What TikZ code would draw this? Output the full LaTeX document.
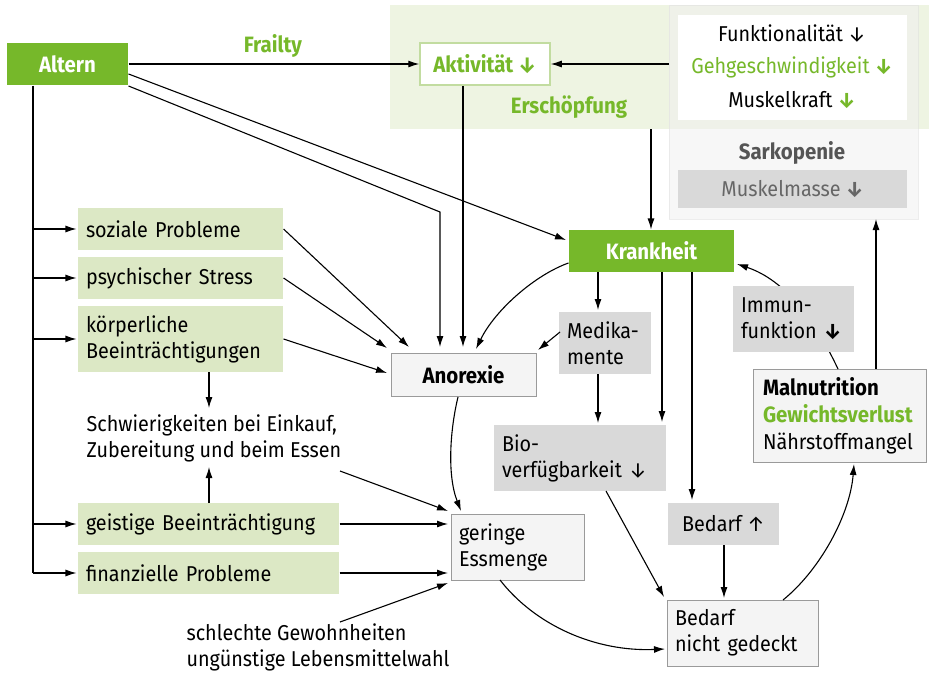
\documentclass[tikz,border=0pt]{standalone}
\usepackage{fontspec}
\setmainfont{Fira Sans}[FakeStretch=0.92]
\usetikzlibrary{arrows.meta}
\definecolor{pgreen}{HTML}{76B82A}
\definecolor{lgreen}{HTML}{DCE8C5}
\definecolor{panelgreen}{HTML}{EEF4E2}
\definecolor{aktborder}{HTML}{C2DCA0}
\definecolor{midgrey}{HTML}{D9D9D9}
\definecolor{palegrey}{HTML}{F4F4F4}
\definecolor{bordgrey}{HTML}{9A9A9A}
\definecolor{sarkgrey}{HTML}{555555}
\definecolor{mmgrey}{HTML}{666666}
\newcommand{\bfs}{\fontsize{22.2}{26}\selectfont\bfseries}
\begin{document}
\begin{tikzpicture}[x=1pt,y=-1pt,
  font=\fontsize{21.5}{26}\selectfont,
  >={Latex[length=11pt,width=7pt]},
  line width=1.1pt,
  base/.style={rectangle,inner sep=0pt,minimum height=42},
  greenbox/.style={base,fill=pgreen,text=white,font=\bfs},
  lgbox/.style={base,fill=lgreen,align=left},
  greybox/.style={base,fill=midgrey,align=left},
  palebox/.style={base,fill=palegrey,draw=bordgrey,line width=1pt,align=left},
  plain/.style={inner sep=0pt,align=left},
  lbl/.style={inner sep=0pt,text=pgreen,font=\bfs},
  conn/.style={->}
]
\useasboundingbox (0,0) rectangle (929,675);
% background panels
\fill[panelgreen] (390,5) rectangle (929,129);
\fill[gray!12,opacity=0.55,draw=gray!25,line width=0.8pt] (669,5) rectangle (918,219);
\node[base,fill=white,minimum width=229,minimum height=105] (fwm) at (792.5,67.5) {};
\node[inner sep=0pt] (funk) at (792,33) {Funktionalität ↓};
\node[inner sep=0pt,text=pgreen] (geh) at (792,67) {Gehgeschwindigkeit {\bfseries ↓}};
\node[inner sep=0pt] (mk) at (792,100) {Muskelkraft {\color{pgreen}\bfseries ↓}};
\node[inner sep=0pt,text=sarkgrey,font=\bfs] (sark) at (792,153) {Sarkopenie};
\node[base,fill=midgrey,minimum width=229,minimum height=38,text=mmgrey] (mm) at (792.5,189) {Muskelmasse {\bfseries ↓}};
\coordinate (sarkL) at (669,64);
\coordinate (sarkB) at (876,219);
\coordinate (panelB) at (651,129);

% nodes
\node[greenbox,minimum width=121] (altern) at (67.5,64) {Altern};
\node[lbl] (frailty) at (273,46) {Frailty};
\node[base,fill=white,draw=aktborder,line width=1.5pt,minimum width=130,text=pgreen,font=\bfs] (akt) at (485,64) {Aktivität ↓};
\node[lbl] (ersch) at (569,107) {Erschöpfung};

\node[lgbox,minimum width=205,text width=189] (sozial) at (180.5,229) {soziale Probleme};
\node[lgbox,minimum width=205,text width=189] (psych) at (180.5,278) {psychischer Stress};
\node[lgbox,minimum width=205,minimum height=66,text width=189] (koerp) at (180.5,339) {körperliche\\Beeinträchtigungen};
\node[plain,anchor=north west] (schw) at (86,414) {Schwierigkeiten bei Einkauf,\\Zubereitung und beim Essen};
\node[lgbox,minimum width=261,text width=245] (geist) at (208.5,524) {geistige Beeinträchtigung};
\node[lgbox,minimum width=261,text width=245] (finanz) at (208.5,573) {finanzielle Probleme};
\node[plain,anchor=north west] (schlecht) at (186,623) {schlechte Gewohnheiten\\ungünstige Lebensmittelwahl};

\node[palebox,minimum width=145,minimum height=43,font=\bfs] (anor) at (463.5,374.5) {Anorexie};
\node[palebox,minimum width=133,minimum height=66,text width=117] (gering) at (517.5,547) {geringe\\Essmenge};

\node[greenbox,minimum width=165] (krank) at (651.5,251) {Krankheit};
\node[greybox,minimum width=92,minimum height=62,text width=76] (medi) at (605,343) {Medika-\\mente};
\node[greybox,minimum width=172,minimum height=66,text width=156] (bio) at (580,458) {Bio-\\verfügbarkeit ↓};
\node[greybox,minimum width=111] (bedarf) at (723.5,524) {Bedarf ↑};
\node[palebox,minimum width=151,minimum height=66,text width=135] (nicht) at (742.5,633) {Bedarf\\nicht gedeckt};
\node[palebox,minimum width=173,minimum height=93,text width=153,font=\fontsize{21.5}{27}\selectfont] (maln) at (839.5,415.5) {{\bfs Malnutrition}\\{\color{pgreen}\bfs Gewichtsverlust}\\Nährstoffmangel};

% connectors
\draw[conn] (altern.east) -- (akt.west);
\draw[conn] (sarkL) -- (akt.east);
\draw[conn] (panelB) -- (krank.north -| panelB);
\draw[conn] (maln.north -| sarkB) -- (sarkB);
\draw[conn] (akt.south -| 463,0) -- (463,347);
\draw[conn] (altern.east |- 0,86) -- (440,212) -- (440,347);
\draw[conn] (altern.east |- 0,74) -- (566,240);

\coordinate (trunkTop) at (33,85);
\draw (altern.south -| trunkTop) -- (33,573);
\foreach \n in {sozial,psych,koerp,geist,finanz}{
  \draw[conn] (33,0 |- \n.west) -- ([xshift=-1pt]\n.west);
}
\draw[conn] (sozial.east) -- (409,347);
\draw[conn] (psych.east) -- (387,348);
\draw[conn] (koerp.east) -- (387,373);
\draw[conn] (209,372) -- (209,408);
\draw[conn] (209,503) -- (209,467);
\draw[conn] (340,471) -- (448,511);
\draw[conn] (geist.east) -- (448,524);
\draw[conn] (finanz.east) -- (448,573);
\draw[conn] (340,622) -- (448,583);

\draw[conn] (krank.south west |- 0,263) .. controls (535,275) and (495,310) .. (476,349);
\draw[conn] (560,332) -- (538,350);
\draw[conn] (458,397) .. controls (450,430) and (447,475) .. (461,511);

\draw[conn] (598,272) -- (598,310);
\draw[conn] (662,272) -- (662,422);
\draw[conn] (692,272) -- (692,500);
\draw[conn] (598,374) -- (598,423);
\draw[conn] (606,491) -- (664,597);
\draw[conn] (724,545) -- (724,598);
\draw[conn] (500,580) .. controls (535,625) and (595,652) .. (665,649);
\draw[conn] (783,600) .. controls (820,570) and (850,515) .. (854,464);
\draw[conn] (838,369) .. controls (815,320) and (785,280) .. (737,264);
% Immunfunktion box drawn over the curve
\node[greybox,minimum width=121,minimum height=66,text width=105] (immun) at (793.5,319) {Immun-\\funktion {\bfseries ↓}};
\end{tikzpicture}
\end{document}
